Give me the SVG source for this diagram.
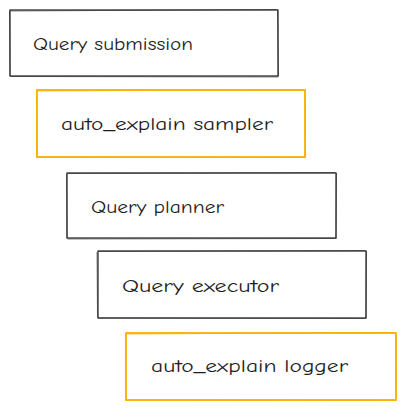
<svg xmlns="http://www.w3.org/2000/svg" width="406" height="409" viewBox="0 0 406 409">
<style>
.bk{fill:none;stroke:#1e1e1e;stroke-width:1.2;stroke-linecap:round}
.yl{fill:none;stroke:#fab005;stroke-width:1.8;stroke-linecap:round}
.bk2{fill:none;stroke:#1e1e1e;stroke-width:0.8;opacity:0.7}
.yl2{fill:none;stroke:#fab005;stroke-width:1.2;opacity:0.8}
text{font-family:"Comic Neue","Liberation Sans","DejaVu Sans",sans-serif;font-size:19px;fill:#1e1e1e}
</style>
<rect width="406" height="409" fill="#ffffff"/>
<g id="node-submission">
<rect x="10" y="10" width="268" height="66" class="bk" fill="#ffffff"/>
<path d="M11 11 L277 9.5 M277.5 10.5 L278.5 76.5 M278 77 L10.5 76.5 M10 75.5 L9.5 10.5" class="bk2"/>
<text x="33" y="50" textLength="160" lengthAdjust="spacingAndGlyphs">Query submission</text>
</g>
<g id="node-sampler">
<rect x="37" y="90" width="268" height="67" class="yl" fill="#ffffff"/>
<path d="M38 91 L304 89.5 M305 90.5 L305.5 156.5 M304.5 157.5 L37.5 157 M37 156 L36.5 91" class="yl2"/>
<text x="61" y="130" textLength="212" lengthAdjust="spacingAndGlyphs">auto_explain sampler</text>
</g>
<g id="node-planner">
<rect x="67" y="173" width="269" height="65" class="bk" fill="#ffffff"/>
<path d="M68 173.5 L335.5 172.5 M336.5 173 L336 238.5 M335.5 238.5 L67.5 239 M67 238 L66.5 174" class="bk2"/>
<text x="91" y="213" textLength="133" lengthAdjust="spacingAndGlyphs">Query planner</text>
</g>
<g id="node-executor">
<rect x="98" y="251" width="268" height="67" class="bk" fill="#ffffff"/>
<path d="M99 251.5 L365.5 250.5 M366.5 251 L366 318.5 M365 318.5 L98 318 M97.5 317 L97 252" class="bk2"/>
<text x="122" y="292" textLength="157" lengthAdjust="spacingAndGlyphs">Query executor</text>
</g>
<g id="node-logger">
<rect x="126" y="333" width="270" height="67" class="yl" fill="#ffffff"/>
<path d="M127 334 L395 332.5 M396 333.5 L396.5 399.5 M395.5 400.5 L126.5 400 M126 399 L125.5 334" class="yl2"/>
<text x="151" y="372" textLength="197" lengthAdjust="spacingAndGlyphs">auto_explain logger</text>
</g>
<g id="connectors"></g>
</svg>
